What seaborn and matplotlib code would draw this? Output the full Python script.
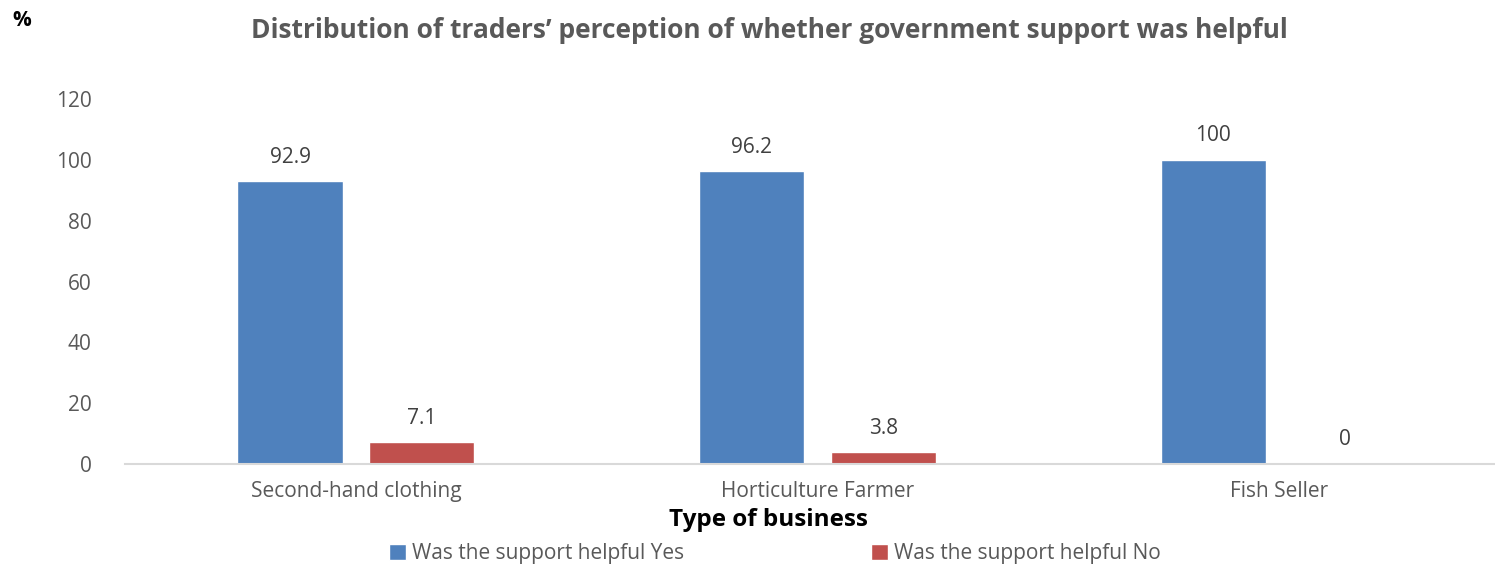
import matplotlib
matplotlib.use("Agg")
import matplotlib.pyplot as plt
import seaborn as sns
import pandas as pd

categories = ["Second-hand clothing", "Horticulture Farmer", "Fish Seller"]
series_names = ["Was the support helpful Yes", "Was the support helpful No"]
yes_values = [92.9, 96.2, 100]
no_values = [7.1, 3.8, 0]
yticks = [0, 20, 40, 60, 80, 100, 120]

sns.set_theme(style="white")
plt.rcParams["font.family"] = ["Open Sans", "DejaVu Sans"]

df = pd.DataFrame({
    "cat": categories * 2,
    "series": [series_names[0]] * 3 + [series_names[1]] * 3,
    "val": yes_values + no_values,
})

W, H = 1495, 565
fig = plt.figure(figsize=(W / 100, H / 100), dpi=100)
ax = fig.add_axes([125 / W, 1 - 464 / H, (1510 - 125) / W, (464 - 99) / H])

palette = {series_names[0]: "#4F81BD", series_names[1]: "#C0504D"}
sns.barplot(data=df, x="cat", y="val", hue="series", order=categories,
            hue_order=series_names, palette=palette, width=0.57, gap=0.2,
            saturation=1, ax=ax, legend=True)

ax.set_ylim(0, 120)
ax.set_xlim(-0.5, 2.5)
ax.set_yticks(yticks)
ax.set_yticklabels([str(t) for t in yticks])
for s in ["top", "right", "left"]:
    ax.spines[s].set_visible(False)
ax.spines["bottom"].set_color("#D9D9D9")
ax.spines["bottom"].set_linewidth(1.5)
ax.tick_params(axis="both", length=0, colors="#595959", labelsize=15)
ax.tick_params(axis="x", pad=12)
ax.tick_params(axis="y", pad=24)
ax.set_ylabel("")
ax.set_xlabel("")

for cont in ax.containers:
    ax.bar_label(cont, labels=[f"{v:g}" for v in cont.datavalues], padding=10,
                 fontsize=15, color="#404040")

handles, labels = ax.get_legend_handles_labels()
ax.get_legend().remove()
fig.legend(handles, labels, loc="center", bbox_to_anchor=(775 / W, 1 - 554 / H), ncol=2,
           frameon=False, fontsize=15, handlelength=0.8, handleheight=0.8,
           handletextpad=0.3, columnspacing=9.0, labelcolor="#595959",
           borderpad=0, borderaxespad=0)

fig.text(768 / W, 1 - 520 / H, "Type of business", ha="center", va="center",
         fontsize=17.5, fontweight="bold", color="black")
fig.text(769 / W, 1 - 30 / H, "Distribution of traders\u2019 perception of whether government support was helpful",
         ha="center", va="center", fontsize=19, fontweight="bold", color="#595959")
fig.text(12 / W, 1 - 20 / H, "%", ha="left", va="center", fontsize=15,
         fontweight="bold", color="black")

fig.savefig("out.png", dpi=100)
